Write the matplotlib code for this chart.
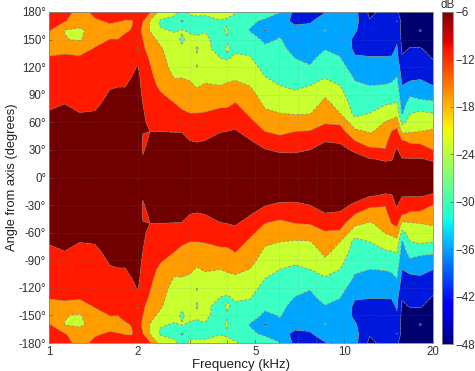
import matplotlib
matplotlib.use("Agg")
import matplotlib.pyplot as plt
import numpy as np
from matplotlib.ticker import NullFormatter

plt.rcParams["font.family"] = ["Liberation Sans", "DejaVu Sans"]

# frequency of each measured column, kHz
freq_khz = [1.0, 1.13, 1.27, 1.43, 1.61, 1.71, 1.81, 1.91, 2.0, 2.08, 2.2, 2.38, 2.67, 2.82, 3.0,
            3.17, 3.38, 3.8, 4.01, 4.27, 4.8, 5.39, 6.06, 6.82, 7.66, 8.61, 9.68, 10.88, 12.2,
            13.8, 14.5, 15.1, 15.7, 16.7, 18.1, 20.0]
# angles 0..180, the lower half of the plot mirrors them
angle_half = [0, 10, 20, 30, 40, 50, 60, 70, 80, 90, 100, 110, 120, 130, 140, 150, 160, 170, 180]

# level in dB, one line per frequency, one value per angle
db_half = [
    [-7, -7.2, -7.5, -8, -8.5, -9, -10, -11, -11.8, -12.6, -13.4, -14.3, -15.2, -16.3, -17.3, -17, -16, -15, -14.5],
    [-7, -7.2, -7.5, -8, -8.5, -9, -9.8, -10.5, -11.25, -12, -13, -14, -15, -16, -17.2, -21.5, -21.9, -16.2, -15],
    [-7, -7.2, -7.5, -8, -8.5, -9, -10, -11.2, -12, -12.8, -13.6, -14.5, -15.3, -16, -18, -22.3, -22.8, -19, -18],
    [-7, -7.2, -7.5, -8, -8.5, -9, -10, -11, -12, -12.7, -13.4, -14, -14.7, -15.4, -16.2, -18, -19.5, -17, -15.5],
    [-7, -7, -7.2, -7.5, -8, -8.5, -9, -9.5, -10, -10.8, -11.6, -12.5, -13.5, -14.5, -15.5, -16.4, -18, -16, -14.5],
    [-7, -7, -7.2, -7.5, -8, -8.4, -8.8, -9.3, -9.9, -10.5, -11.4, -12.3, -13.2, -14, -14.8, -16.3, -22, -16, -14.5],
    [-7, -7, -7.2, -7.5, -8, -8.4, -8.8, -9.3, -9.9, -10.5, -11.4, -12.2, -13, -13.7, -14.3, -15.5, -17, -16.8, -14.5],
    [-7, -7, -7, -7.3, -7.6, -8, -8.4, -8.8, -9.3, -9.8, -10.5, -11.25, -12, -12.5, -12.5, -14, -16.3, -16.8, -14],
    [-6.5, -6.5, -6.7, -7, -7.3, -7.6, -8, -8.3, -8.7, -9.2, -9.6, -10, -11, -12, -11, -12, -13, -14, -13],
    [-8, -9, -10.5, -12, -12, -11, -10.5, -10.8, -11.25, -12, -12.7, -13.3, -14, -14.8, -15.7, -16.4, -18.5, -16.3, -14.5],
    [-7.5, -7.7, -8, -8.8, -10.8, -11.25, -12.3, -13, -13.8, -14.5, -15, -15.6, -16.2, -17, -18.5, -20, -22, -22, -16],
    [-7.5, -7.8, -8.2, -8.8, -10, -11.25, -12.3, -13.3, -14.5, -16, -17.3, -18.3, -19.2, -20, -21, -23, -26.7, -27.5, -24],
    [-7.5, -7.7, -8, -8.5, -9.8, -11.4, -12.7, -14.5, -16.4, -18, -20, -22.3, -24, -25, -25.5, -26, -27.3, -28.5, -26],
    [-7.5, -7.7, -8, -8.6, -10, -11.4, -13, -15.8, -17.5, -19, -20.5, -22, -24, -25.5, -26.5, -27.5, -26.8, -33, -29],
    [-7.5, -7.7, -8.2, -9.5, -11.25, -12.5, -14, -16.5, -18, -19.5, -21, -22.5, -24, -25, -25.5, -26, -27.5, -29, -26],
    [-7.5, -7.8, -8.3, -10, -11.5, -12.8, -14.5, -16.5, -18, -20.5, -22.2, -24.5, -27.1, -26.8, -27.2, -26.6, -27.5, -29, -25.5],
    [-7.5, -7.8, -8.3, -9.5, -11.2, -12.5, -14.5, -16.3, -18, -19.8, -21.3, -23, -24.5, -25.5, -26, -26.3, -27.2, -28.5, -26],
    [-7.5, -7.7, -8, -8.7, -10, -11.4, -13, -15.5, -17.3, -19.5, -21.75, -24, -26, -27, -28.5, -28.5, -28, -27.2, -25.5],
    [-7.5, -7.7, -8, -8.6, -9.8, -11.25, -12.7, -15, -17.5, -19.5, -21.2, -23, -25, -27.5, -26.6, -27.3, -26.6, -27.5, -26],
    [-7.5, -7.7, -8, -8.5, -9.5, -10.8, -12.5, -14.5, -16.2, -18, -20.5, -22.7, -24.6, -26.3, -27.7, -29, -29.5, -29, -26.5],
    [-7.7, -8, -8.5, -9.5, -11, -13, -15.5, -17.3, -18.7, -20.2, -21.9, -24, -25.2, -26.7, -28, -30.5, -32.5, -31.5, -28.5],
    [-7.8, -8.2, -9, -11, -13.5, -16.5, -18.5, -21, -22.5, -24, -25.3, -27, -28.5, -30, -31.5, -33, -38, -33, -30],
    [-8, -8.3, -9.5, -12, -15, -17.5, -20, -21.75, -23.7, -25.5, -27, -28.5, -29.5, -30.5, -31.3, -32, -33, -36, -32],
    [-8, -8.3, -9.7, -12, -14.5, -16.5, -19.5, -22.2, -24, -26, -28, -29.5, -31, -32.3, -33.5, -34.5, -36, -38.5, -39],
    [-8, -8.3, -9.3, -11.25, -13.5, -16.2, -19.5, -22, -24, -25.5, -27, -29.5, -32, -33, -34, -35, -36, -38, -39],
    [-8, -8.2, -8.6, -9.6, -11.5, -14, -17, -19, -20.5, -22.3, -25, -27.5, -29.5, -31, -32.4, -33.5, -32, -35, -37.8],
    [-8, -8.2, -8.7, -10, -11.8, -14.5, -17.3, -21.75, -23.5, -25.3, -27, -28.5, -30, -32, -33.5, -34.5, -35.5, -36.5, -36.5],
    [-8, -8.3, -9.5, -12, -16.5, -20.5, -25, -28.5, -29.5, -30.5, -31.5, -33, -35.3, -37, -38.5, -38.5, -37, -36, -36],
    [-8.5, -9.2, -11, -15.5, -19, -22.3, -24.8, -27, -28.7, -30.5, -32.25, -34, -36, -37.3, -38.5, -39.5, -41, -42.3, -44],
    [-8.5, -9.5, -11.8, -16.2, -18, -20, -21.5, -24.5, -27.3, -30, -32, -34, -36, -37.3, -38.5, -39.5, -40, -41, -41],
    [-8.5, -9.7, -11.5, -12.5, -14, -16.3, -20.5, -24, -27, -29.5, -31.5, -33.5, -35.5, -37.2, -38.5, -39.5, -40, -40.5, -40.5],
    [-8.5, -9, -9.8, -10.8, -12.5, -15, -19, -23.5, -26.5, -28.5, -30.5, -32.25, -34, -36, -37, -38, -40, -37.3, -42],
    [-8.5, -10, -11, -13.5, -16, -23, -28.5, -33, -34.5, -36, -37.5, -39, -40.5, -42.3, -43.5, -44, -44, -44.5, -45],
    [-8.5, -9.5, -11, -14.5, -17.3, -22.3, -25, -27.3, -30, -32.8, -36.5, -38.5, -40, -41.5, -42.5, -44.5, -45, -45, -45],
    [-8.5, -9.5, -11, -14.5, -17.5, -21.75, -25, -26, -31, -33.5, -36.5, -38, -39.5, -41, -42.5, -44, -42.5, -44.5, -45],
    [-8.5, -9.7, -11.8, -16.5, -18.5, -21, -24, -27, -31, -34.5, -37.5, -39.5, -41.5, -43, -44, -44.5, -45, -45, -45],
]

band_colors = ["#00006e", "#0018dc", "#00a6ff", "#3cffc4", "#c8ff2e", "#ff9c00", "#ff1a00", "#700000"]
x_ticks = [1, 2, 5, 10, 20]
x_grid = [3, 4, 6, 7, 8, 9]
y_ticks = [-180, -150, -120, -90, -60, -30, 0, 30, 60, 90, 120, 150, 180]
cbar_ticks = [-6, -12, -18, -24, -30, -36, -42, -48]

half = np.array(db_half).T
angles = np.concatenate([-np.array(angle_half[:0:-1]), angle_half])
db = np.vstack([half[:0:-1], half])
levels = np.linspace(-48, -6, 9)

fig = plt.figure(figsize=(4.75, 3.71), dpi=100)
ax = fig.add_axes([49 / 475, 1 - 343 / 371, 384 / 475, 331 / 371])

ax.contourf(freq_khz, angles, db, levels=levels, colors=band_colors, antialiased=True)
ax.contour(freq_khz, angles, db, levels=levels[1:-1], colors="#8a7a50", linewidths=0.6, alpha=0.7)

ax.set_xscale("log")
ax.set_xlim(1, 20)
ax.set_ylim(-180, 180)
ax.set_xticks(x_ticks)
ax.set_xticklabels([str(t) for t in x_ticks])
ax.set_xticks(x_grid, minor=True)
ax.xaxis.set_minor_formatter(NullFormatter())
ax.set_yticks(y_ticks)
ax.set_yticklabels([f"{t}°" for t in y_ticks])
ax.grid(True, which="both", color="#808080", linestyle=":", linewidth=0.5, alpha=0.35)
ax.tick_params(which="both", direction="in", length=2, width=0.5, color="#555555",
               labelsize=8.3, labelcolor="#303030", pad=2)
for s in ax.spines.values():
    s.set_color("#888888")
    s.set_linewidth(0.6)
ax.set_xlabel("Frequency (kHz)", fontsize=9.5, color="#202020", labelpad=1)
ax.set_ylabel("Angle from axis (degrees)", fontsize=9.3, color="#202020", labelpad=0)

cax = fig.add_axes([442 / 475, 1 - 344 / 371, 11 / 475, 332 / 371])
grad = np.linspace(-48, -6, 256).reshape(-1, 1)
cax.imshow(grad, aspect="auto", origin="lower", cmap="jet", extent=[0, 1, -48, -6])
cax.set_xticks([])
cax.yaxis.tick_right()
cax.set_yticks(cbar_ticks)
cax.tick_params(direction="in", length=2, width=0.5, color="#555555", labelsize=8.3,
                labelcolor="#303030", pad=2)
for s in cax.spines.values():
    s.set_color("#888888")
    s.set_linewidth(0.6)
cax.text(0.5, 1.003, "dB", transform=cax.transAxes, ha="center", va="bottom", fontsize=8.3, color="#303030")

fig.savefig("out.png", dpi=100)
